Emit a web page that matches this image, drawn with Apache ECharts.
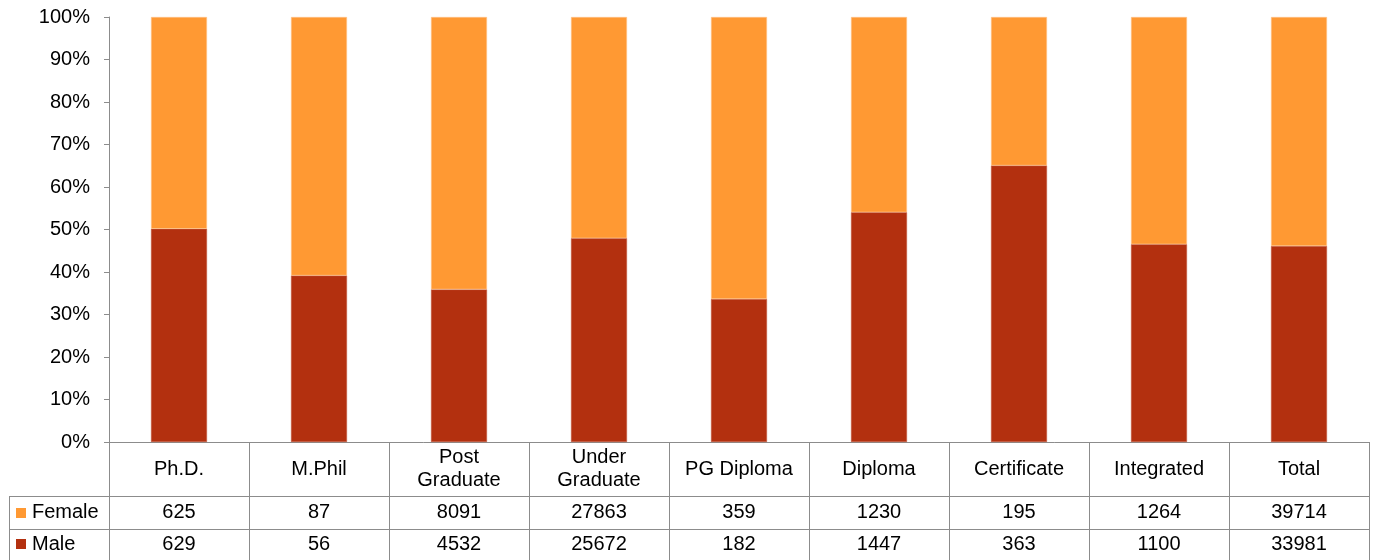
<!DOCTYPE html>
<html><head><meta charset="utf-8">
<script src="https://cdn.jsdelivr.net/npm/echarts@6/dist/echarts.min.js"></script>
<style>html,body{margin:0;padding:0;background:#fff}#c{width:1375px;height:560px}</style>
</head><body><div id="c"></div>
<script>
const categories = ['Ph.D.', 'M.Phil', 'Post\nGraduate', 'Under\nGraduate', 'PG Diploma', 'Diploma', 'Certificate', 'Integrated', 'Total'];
const seriesNames = ['Female', 'Male'];
const female = [625, 87, 8091, 27863, 359, 1230, 195, 1264, 39714];
const male = [629, 56, 4532, 25672, 182, 1447, 363, 1100, 33981];

const FEMALE_COLOR = '#FF9933';
const MALE_COLOR = '#B3300F';
const LINE = '#8c8c8c';
const FONT = "'Liberation Sans', Arial, sans-serif";
const FS = 20;

const malePct = male.map((m, i) => m / (m + female[i]) * 100);
const femalePct = female.map((f, i) => f / (male[i] + f) * 100);

const chart = echarts.init(document.getElementById('c'), null, {renderer: 'canvas'});
chart.setOption({
  animation: false,
  backgroundColor: '#fff',
  textStyle: {fontFamily: FONT},
  grid: {left: 109, right: 6, top: 17, bottom: 118, containLabel: false},
  xAxis: {
    type: 'category', data: categories,
    axisLine: {lineStyle: {color: LINE, width: 1}},
    axisTick: {show: false},
    axisLabel: {interval: 0, color: '#000', fontSize: FS, fontFamily: FONT, margin: 27, verticalAlign: 'middle', lineHeight: 23}
  },
  yAxis: {
    type: 'value', min: 0, max: 100, interval: 10,
    axisLine: {show: true, lineStyle: {color: LINE, width: 1}},
    axisTick: {show: true, length: 5, lineStyle: {color: LINE}},
    splitLine: {show: false},
    axisLabel: {formatter: '{value}%', color: '#000', fontSize: FS, fontFamily: FONT, margin: 19}
  },
  series: [
    {name: 'Male', type: 'bar', stack: 's', data: malePct, barWidth: '40%',
     itemStyle: {color: MALE_COLOR, borderColor: '#c2573c', borderWidth: 0.6}},
    {name: 'Female', type: 'bar', stack: 's', data: femalePct, barWidth: '40%',
     itemStyle: {color: FEMALE_COLOR, borderColor: '#ffc38a', borderWidth: 0.6}}
  ]
});

// Data table below the axis, positioned from the category axis
const c0 = chart.convertToPixel({xAxisIndex: 0}, 0);
const c1 = chart.convertToPixel({xAxisIndex: 0}, 1);
const step = c1 - c0;
const axisY = chart.convertToPixel({yAxisIndex: 0}, 0);
const left = c0 - step / 2;
const right = chart.convertToPixel({xAxisIndex: 0}, categories.length - 1) + step / 2;
const headerBottom = axisY + 54;
const rowMid = headerBottom + 33;
const tableBottom = 562;
const legendLeft = 9;
const rows = [female, male];
const rowColors = [FEMALE_COLOR, MALE_COLOR];
const rowTops = [headerBottom, rowMid];
const rowBottoms = [rowMid, tableBottom - 2.5];

const g = [];
const crisp = v => Math.round(v) + 0.5;
const hline = (x1, x2, y) => g.push({type: 'line', shape: {x1: x1, y1: crisp(y), x2: x2, y2: crisp(y)}, style: {stroke: LINE, lineWidth: 1}, silent: true});
const vline = (x, y1, y2) => g.push({type: 'line', shape: {x1: crisp(x), y1: y1, x2: crisp(x), y2: y2}, style: {stroke: LINE, lineWidth: 1}, silent: true});

for (let i = 0; i <= categories.length; i++) vline(left + i * step, axisY, tableBottom);
hline(legendLeft, right, headerBottom);
hline(legendLeft, right, rowMid);
vline(legendLeft, headerBottom, tableBottom);

rows.forEach((vals, r) => {
  const cy = (rowTops[r] + rowBottoms[r]) / 2;
  g.push({type: 'rect', shape: {x: 16, y: Math.round(cy) - 5, width: 10, height: 10}, style: {fill: rowColors[r]}, silent: true});
  g.push({type: 'text', x: 32, y: cy, style: {text: seriesNames[r], font: FS + 'px ' + FONT, fill: '#000', textAlign: 'left', textVerticalAlign: 'middle'}, silent: true});
  vals.forEach((v, i) => {
    const cx = chart.convertToPixel({xAxisIndex: 0}, i);
    g.push({type: 'text', x: cx, y: cy, style: {text: String(v), font: FS + 'px ' + FONT, fill: '#000', textAlign: 'center', textVerticalAlign: 'middle'}, silent: true});
  });
});
chart.setOption({graphic: g});
</script></body></html>
